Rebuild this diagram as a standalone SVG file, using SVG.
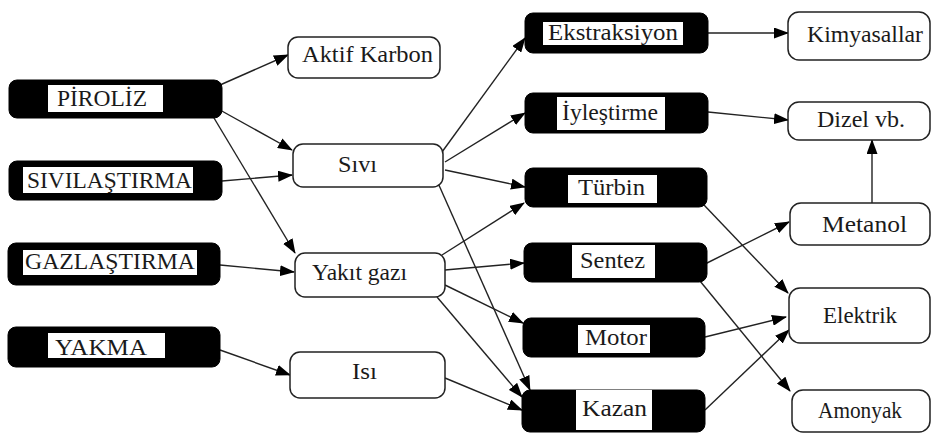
<svg xmlns="http://www.w3.org/2000/svg" width="934" height="435" viewBox="0 0 934 435" font-family="'Liberation Serif', 'DejaVu Serif', 'Times New Roman', serif" font-size="23">
  <defs>
    <marker id="arrow" markerUnits="userSpaceOnUse" markerWidth="15" markerHeight="11" refX="14" refY="5.5" orient="auto">
      <path d="M0,0 L15,5.5 L0,11 Z" fill="#000"/>
    </marker>
    <style>
      .t { font-family: "Liberation Serif", "DejaVu Serif", serif; font-size: 23px; fill: #1a1a1a; }
      .proc { fill: #000; stroke: #000; }
      .lbl { fill: #fff; stroke: none; }
      .out { fill: #fff; stroke: #222; stroke-width: 1.5; }
      .edge { stroke: #222; stroke-width: 1.4; fill: none; marker-end: url(#arrow); }
    </style>
  </defs>
  <rect width="934" height="435" fill="#fff"/>

  <!-- connectors -->
  <g id="connectors">
    <line class="edge" x1="220" y1="85" x2="288" y2="55"/>
    <line class="edge" x1="220" y1="110" x2="292" y2="150"/>
    <line class="edge" x1="214" y1="118" x2="295" y2="253"/>
    <line class="edge" x1="222" y1="181" x2="292" y2="175"/>
    <line class="edge" x1="220" y1="265" x2="294" y2="272"/>
    <line class="edge" x1="220" y1="350" x2="290" y2="375"/>

    <line class="edge" x1="442" y1="152" x2="525" y2="38"/>
    <line class="edge" x1="445" y1="162" x2="525" y2="113"/>
    <line class="edge" x1="445" y1="170" x2="525" y2="187"/>
    <line class="edge" x1="438" y1="183" x2="530" y2="390"/>

    <line class="edge" x1="442" y1="255" x2="524" y2="203"/>
    <line class="edge" x1="445" y1="270" x2="524" y2="263"/>
    <line class="edge" x1="445" y1="285" x2="523" y2="323"/>
    <line class="edge" x1="437" y1="297" x2="522" y2="397"/>
    <line class="edge" x1="445" y1="378" x2="522" y2="410"/>

    <line class="edge" x1="708" y1="33" x2="788" y2="33"/>
    <line class="edge" x1="708" y1="112" x2="788" y2="120"/>
    <line class="edge" x1="872" y1="203" x2="872" y2="140"/>

    <line class="edge" x1="704" y1="205" x2="788" y2="293"/>
    <line class="edge" x1="705" y1="264" x2="789" y2="222"/>
    <line class="edge" x1="700" y1="281" x2="790" y2="391"/>
    <line class="edge" x1="705" y1="337" x2="786" y2="317"/>
    <line class="edge" x1="705" y1="410" x2="789" y2="330"/>
  </g>

  <!-- process routes -->
  <g id="piroliz">
    <rect class="proc" x="9" y="80" width="213" height="38" rx="8"/>
    <rect class="lbl" x="48" y="85" width="115" height="27"/>
    <text class="t" x="57" y="106" textLength="90" lengthAdjust="spacingAndGlyphs">PİROLİZ</text>
  </g>
  <g id="sivilastirma">
    <rect class="proc" x="9" y="161" width="213" height="39" rx="8"/>
    <rect class="lbl" x="23" y="167" width="170" height="26"/>
    <text class="t" x="27" y="188" textLength="165" lengthAdjust="spacingAndGlyphs">SIVILAŞTIRMA</text>
  </g>
  <g id="gazlastirma">
    <rect class="proc" x="8" y="243" width="212" height="42" rx="8"/>
    <rect class="lbl" x="23" y="250" width="174" height="25"/>
    <text class="t" x="25" y="269" textLength="170" lengthAdjust="spacingAndGlyphs">GAZLAŞTIRMA</text>
  </g>
  <g id="yakma">
    <rect class="proc" x="8" y="327" width="212" height="40" rx="8"/>
    <rect class="lbl" x="48" y="333" width="117" height="25"/>
    <text class="t" x="55" y="355" textLength="92" lengthAdjust="spacingAndGlyphs">YAKMA</text>
  </g>

  <!-- intermediate products -->
  <g id="aktif-karbon">
    <rect class="out" x="288" y="37" width="152" height="41" rx="10"/>
    <text class="t" x="302" y="62" textLength="131" lengthAdjust="spacingAndGlyphs">Aktif Karbon</text>
  </g>
  <g id="sivi">
    <rect class="out" x="293" y="144" width="150" height="43" rx="10"/>
    <text class="t" x="338" y="172" textLength="39" lengthAdjust="spacingAndGlyphs">Sıvı</text>
  </g>
  <g id="yakit-gazi">
    <rect class="out" x="295" y="253" width="150" height="44" rx="10"/>
    <text class="t" x="312" y="280" textLength="95" lengthAdjust="spacingAndGlyphs">Yakıt gazı</text>
  </g>
  <g id="isi">
    <rect class="out" x="290" y="352" width="155" height="46" rx="10"/>
    <text class="t" x="352" y="379" textLength="25" lengthAdjust="spacingAndGlyphs">Isı</text>
  </g>

  <!-- conversion units -->
  <g id="ekstraksiyon">
    <rect class="proc" x="525" y="13" width="183" height="40" rx="8"/>
    <rect class="lbl" x="543" y="22" width="140" height="23"/>
    <text class="t" x="548" y="40" textLength="130" lengthAdjust="spacingAndGlyphs">Ekstraksiyon</text>
  </g>
  <g id="iyilestirme">
    <rect class="proc" x="525" y="93" width="183" height="40" rx="8"/>
    <rect class="lbl" x="557" y="97" width="108" height="33"/>
    <text class="t" x="562" y="120" textLength="96" lengthAdjust="spacingAndGlyphs">İyleştirme</text>
  </g>
  <g id="turbin">
    <rect class="proc" x="525" y="168" width="182" height="39" rx="8"/>
    <rect class="lbl" x="568" y="175" width="89" height="28"/>
    <text class="t" x="578" y="195" textLength="67" lengthAdjust="spacingAndGlyphs">Türbin</text>
  </g>
  <g id="sentez">
    <rect class="proc" x="524" y="243" width="183" height="39" rx="8"/>
    <rect class="lbl" x="572" y="245" width="83" height="33"/>
    <text class="t" x="580" y="268" textLength="65" lengthAdjust="spacingAndGlyphs">Sentez</text>
  </g>
  <g id="motor">
    <rect class="proc" x="523" y="318" width="182" height="39" rx="8"/>
    <rect class="lbl" x="578" y="325" width="72" height="28"/>
    <text class="t" x="585" y="345" textLength="62" lengthAdjust="spacingAndGlyphs">Motor</text>
  </g>
  <g id="kazan">
    <rect class="proc" x="522" y="390" width="183" height="42" rx="8"/>
    <rect class="lbl" x="576" y="390" width="76" height="40"/>
    <text class="t" x="582" y="416" textLength="65" lengthAdjust="spacingAndGlyphs">Kazan</text>
  </g>

  <!-- end products -->
  <g id="kimyasallar">
    <rect class="out" x="788" y="12" width="142" height="48" rx="11"/>
    <text class="t" x="807" y="42" textLength="116" lengthAdjust="spacingAndGlyphs">Kimyasallar</text>
  </g>
  <g id="dizel">
    <rect class="out" x="788" y="102" width="142" height="38" rx="11"/>
    <text class="t" x="817" y="127" textLength="88" lengthAdjust="spacingAndGlyphs">Dizel vb.</text>
  </g>
  <g id="metanol">
    <rect class="out" x="790" y="203" width="140" height="42" rx="11"/>
    <text class="t" x="822" y="232" textLength="85" lengthAdjust="spacingAndGlyphs">Metanol</text>
  </g>
  <g id="elektrik">
    <rect class="out" x="789" y="288" width="141" height="55" rx="11"/>
    <text class="t" x="823" y="323" textLength="74" lengthAdjust="spacingAndGlyphs">Elektrik</text>
  </g>
  <g id="amonyak">
    <rect class="out" x="792" y="390" width="138" height="42" rx="11"/>
    <text class="t" x="818" y="418" textLength="84" lengthAdjust="spacingAndGlyphs">Amonyak</text>
  </g>
</svg>
